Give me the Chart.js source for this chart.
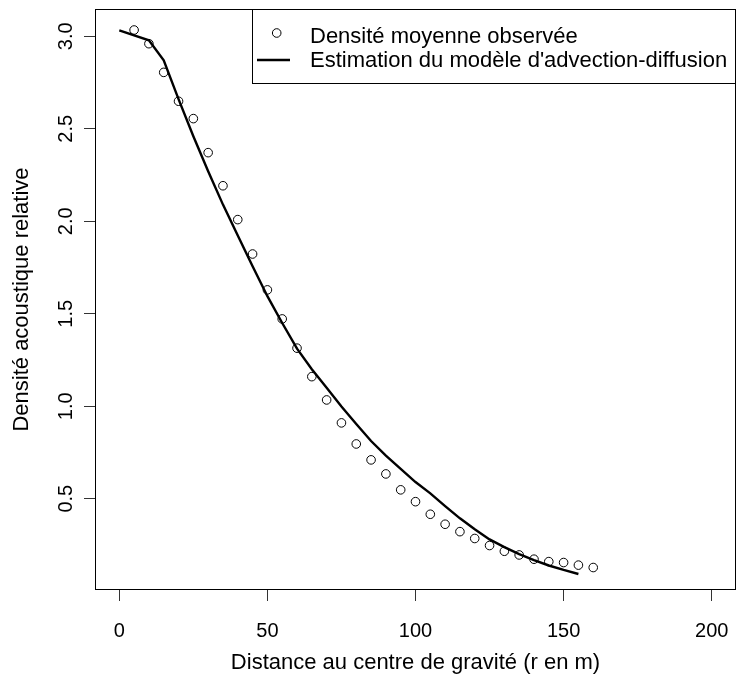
<!DOCTYPE html>
<html><head><meta charset="utf-8">
<script src="https://cdn.jsdelivr.net/npm/chart.js@4/dist/chart.umd.min.js"></script>
<style>html,body{margin:0;padding:0;background:#fff}#wrap{width:736px;height:677px}</style>
</head><body><div id="wrap"><canvas id="c" width="736" height="677"></canvas></div>
<script>
const xObs = [5,10,15,20,25,30,35,40,45,50,55,60,65,70,75,80,85,90,95,100,105,110,115,120,125,130,135,140,145,150,155,160];
const yObs = [3.034,2.96,2.805,2.649,2.555,2.371,2.192,2.009,1.823,1.629,1.472,1.314,1.160,1.034,0.910,0.796,0.710,0.634,0.548,0.484,0.416,0.362,0.322,0.285,0.247,0.216,0.196,0.173,0.160,0.155,0.141,0.128];
const xModel = [0,10,15,20,25,30,35,40,45,50,55,60,65,70,75,80,85,90,95,100,105,110,115,120,125,130,135,140,145,150,155];
const yModel = [3.032,2.978,2.87,2.66,2.46,2.27,2.09,1.923,1.757,1.595,1.45,1.311,1.20,1.10,0.999,0.904,0.812,0.733,0.661,0.59,0.529,0.46,0.394,0.335,0.28,0.238,0.200,0.168,0.139,0.115,0.093];
const xTicks = [0,50,100,150,200];
const yTicks = [0.5,1.0,1.5,2.0,2.5,3.0];
const seriesNames = ["Densité moyenne observée","Estimation du modèle d'advection-diffusion"];
const xTitle = "Distance au centre de gravité (r en m)";
const yTitle = "Densité acoustique relative";

const FONT = "'Liberation Sans', Arial, sans-serif";

function zeroPad(s) { s.paddingLeft = 0; s.paddingRight = 0; s.paddingTop = 0; s.paddingBottom = 0; }

const boxAndLegend = {
  id: 'boxAndLegend',
  afterDatasetsDraw(chart) {
    const {ctx, chartArea: a} = chart;
    ctx.save();
    ctx.strokeStyle = '#000';
    ctx.lineWidth = 1;
    ctx.strokeRect(a.left + 0.5, a.top + 0.5, a.right - a.left - 1, a.bottom - a.top - 1);
    // legend
    const lx = 252.5, ly = a.top + 0.5, lw = a.right - 0.5 - lx, lh = 74;
    ctx.fillStyle = '#fff';
    ctx.fillRect(lx, ly, lw, lh);
    ctx.strokeRect(lx, ly, lw, lh);
    ctx.beginPath();
    ctx.arc(276.7, 33, 4.3, 0, Math.PI * 2);
    ctx.stroke();
    ctx.lineWidth = 2.4;
    ctx.beginPath();
    ctx.moveTo(257, 60); ctx.lineTo(290, 60);
    ctx.stroke();
    ctx.fillStyle = '#000';
    ctx.font = "22px " + FONT;
    ctx.textBaseline = 'middle';
    ctx.textAlign = 'left';
    ctx.fillText(chart.data.datasets[0].label, 310, 37);
    ctx.fillText(chart.data.datasets[1].label, 310, 61);
    ctx.restore();
  }
};

new Chart(document.getElementById('c'), {
  type: 'scatter',
  data: {
    datasets: [
      {
        label: seriesNames[0],
        data: xObs.map((x, i) => ({x, y: yObs[i]})),
        pointStyle: 'circle', pointRadius: 4.3, pointBorderWidth: 1,
        pointBorderColor: '#000', pointBackgroundColor: 'rgba(0,0,0,0)',
        showLine: false
      },
      {
        label: seriesNames[1],
        data: xModel.map((x, i) => ({x, y: yModel[i]})),
        showLine: true, borderColor: '#000', borderWidth: 2.4,
        pointRadius: 0, tension: 0, fill: false
      }
    ]
  },
  options: {
    responsive: false,
    animation: false,
    devicePixelRatio: 1,
    layout: {autoPadding: false, padding: {top: 9, right: 0, left: 0, bottom: 0}},
    plugins: {legend: {display: false}, tooltip: {enabled: false}},
    scales: {
      x: {
        type: 'linear', min: -8.2, max: 208.2,
        afterFit(s) { s.height = 87; zeroPad(s); },
        afterBuildTicks(s) { s.ticks = xTicks.map(v => ({value: v})); },
        grid: {display: true, drawOnChartArea: false, drawTicks: true, tickLength: 11, tickColor: '#333', tickWidth: 1},
        border: {display: false},
        ticks: {color: '#000', font: {family: FONT, size: 20}, padding: 18, maxRotation: 0, callback: v => String(v)},
        title: {display: true, text: xTitle, color: '#000', font: {family: FONT, size: 22}, padding: {top: 0, bottom: 0.8}}
      },
      y: {
        type: 'linear', min: 0.0065, max: 3.1476,
        afterFit(s) { s.width = 95; zeroPad(s); },
        afterBuildTicks(s) { s.ticks = yTicks.map(v => ({value: v})); },
        grid: {display: true, drawOnChartArea: false, drawTicks: true, tickLength: 11, tickColor: '#333', tickWidth: 1},
        border: {display: false},
        ticks: {color: '#000', font: {family: FONT, size: 20}, padding: 4, minRotation: 90, maxRotation: 90, crossAlign: 'center', callback: v => v.toFixed(1)},
        title: {display: true, text: yTitle, color: '#000', font: {family: FONT, size: 22}, padding: {top: 8.8, bottom: 0}}
      }
    }
  },
  plugins: [boxAndLegend]
});
</script></body></html>
